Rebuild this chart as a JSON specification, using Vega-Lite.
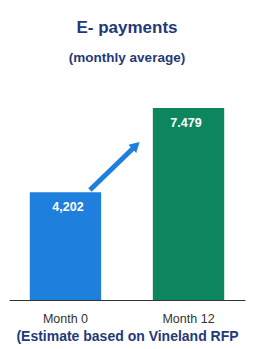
{
  "$schema": "https://vega.github.io/schema/vega-lite/v6.json",
  "width": 236,
  "height": 220,
  "autosize": "none",
  "padding": {"left": 9, "top": 80, "right": 10, "bottom": 49},
  "background": "white",
  "config": {"view": {"stroke": null}, "font": "Liberation Sans"},
  "title": {
    "text": "E- payments",
    "subtitle": "(monthly average)",
    "anchor": "middle",
    "font": "Liberation Sans",
    "fontSize": 17,
    "fontWeight": "bold",
    "color": "#1f3a78",
    "subtitleFont": "Liberation Sans",
    "subtitleFontSize": 13.5,
    "subtitleFontWeight": "bold",
    "subtitleColor": "#1f3a78",
    "subtitlePadding": 14,
    "offset": 15
  },
  "datasets": {
    "bars": [
      {"period": "Month 0", "value": 4202, "label": "4,202", "series": "a"},
      {"period": "Month 12", "value": 7479, "label": "7.479", "series": "b"}
    ],
    "arrow": [{"x0": 0.343, "y0": 4285, "x1": 0.538, "y1": 6020}]
  },
  "layer": [
    {
      "data": {"name": "bars"},
      "mark": {"type": "bar"},
      "encoding": {
        "x": {"field": "period", "type": "nominal",
          "scale": {"paddingInner": 0.42, "paddingOuter": 0.169},
          "axis": {"title": "(Estimate based on Vineland RFP", "labelAngle": 0, "ticks": false,
            "domainColor": "#333", "labelFontSize": 12.5, "labelColor": "#333", "labelPadding": 12,
            "titleFontSize": 14, "titleFontWeight": "bold", "titleColor": "#1f3a78", "titlePadding": 5}},
        "y": {"field": "value", "type": "quantitative", "scale": {"domain": [0, 8570], "nice": false}, "axis": null},
        "color": {"field": "series", "type": "nominal", "legend": null,
          "scale": {"domain": ["a", "b"], "range": ["#1e80dc", "#0d8660"]}}
      }
    },
    {
      "data": {"name": "bars"},
      "mark": {"type": "text", "color": "white", "fontWeight": "bold", "fontSize": 12.5, "dy": 15, "baseline": "middle"},
      "encoding": {
        "x": {"field": "period", "type": "nominal", "scale": {"paddingInner": 0.42, "paddingOuter": 0.169}, "axis": null},
        "y": {"field": "value", "type": "quantitative", "scale": {"domain": [0, 8570], "nice": false}, "axis": null},
        "text": {"field": "label"}
      }
    },
    {
      "data": {"name": "arrow"},
      "mark": {"type": "rule", "color": "#1e80dc", "strokeWidth": 5},
      "encoding": {
        "x": {"field": "x0", "type": "quantitative", "scale": {"domain": [0, 1]}, "axis": null},
        "y": {"field": "y0", "type": "quantitative", "scale": {"domain": [0, 8570], "nice": false}, "axis": null},
        "x2": {"field": "x1"},
        "y2": {"field": "y1"}
      }
    },
    {
      "data": {"name": "arrow"},
      "mark": {"type": "point", "shape": "triangle-up", "filled": true, "color": "#1e80dc", "size": 130, "opacity": 1, "angle": 47},
      "encoding": {
        "x": {"field": "x1", "type": "quantitative", "scale": {"domain": [0, 1]}, "axis": null},
        "y": {"field": "y1", "type": "quantitative", "scale": {"domain": [0, 8570], "nice": false}, "axis": null}
      }
    }
  ],
  "resolve": {"scale": {"x": "independent"}}
}
